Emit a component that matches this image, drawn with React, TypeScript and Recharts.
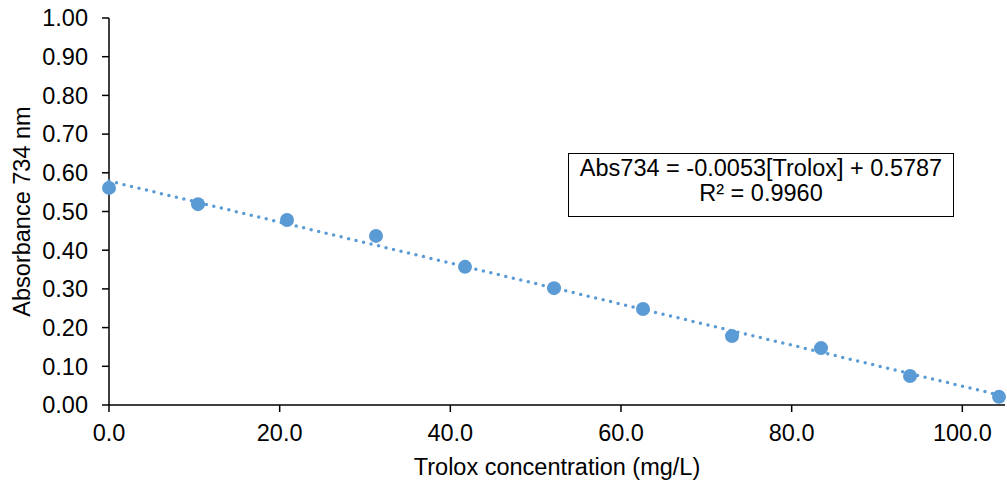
import React from 'react';
import { ScatterChart, Scatter, XAxis, YAxis } from 'recharts';

// Trolox standard concentrations (mg/L) and measured absorbance at 734 nm
const concentrations = [0, 10.43, 20.86, 31.29, 41.72, 52.15, 62.58, 73.01, 83.44, 93.87, 104.3];
const absorbances = [0.561, 0.519, 0.478, 0.437, 0.357, 0.302, 0.248, 0.178, 0.147, 0.075, 0.021];

const xTicks = [0, 20, 40, 60, 80, 100];
const yTicks = [0, 0.1, 0.2, 0.3, 0.4, 0.5, 0.6, 0.7, 0.8, 0.9, 1.0];

// linear fit reported on the chart
const slope = -0.0053;
const intercept = 0.5787;
const rSquared = 0.996;

const blue = '#5B9BD5';
const font = 'Liberation Sans, Arial, sans-serif';
const fontSize = 23.5;

const points = concentrations.map((x, i) => ({ x, y: absorbances[i] }));
const fitEnds = [concentrations[0], concentrations[concentrations.length - 1]];
const trend = fitEnds.map(x => ({ x, y: slope * x + intercept }));

const tickStyle = { fill: '#000', fontSize, fontFamily: font };

const YTitle = ({ viewBox }: any) => {
    const cx = viewBox.x + 30;
    const cy = viewBox.y + viewBox.height / 2;
    return (
        <text x={cx} y={cy} transform={`rotate(-90 ${cx} ${cy})`} textAnchor="middle"
            fill="#000" fontSize={fontSize} fontFamily={font}>
            Absorbance 734 nm
        </text>
    );
};

const XTitle = ({ viewBox }: any) => (
    <text x={viewBox.x + viewBox.width / 2} y={viewBox.y + 70} textAnchor="middle"
        fill="#000" fontSize={fontSize} fontFamily={font}>
        Trolox concentration (mg/L)
    </text>
);

export default function App() {
    // fixed to the viewport so the body margin does not push it into scroll
    return (
        <div style={{ position: 'fixed', left: 0, top: 0, width: 1007, height: 486, background: '#fff' }}>
            <ScatterChart width={1007} height={486} margin={{ top: 18, right: 2, bottom: 0, left: 0 }}>
                <XAxis
                    type="number"
                    dataKey="x"
                    domain={[0, 105]}
                    ticks={xTicks}
                    tickFormatter={(v: number) => v.toFixed(1)}
                    tick={tickStyle}
                    tickSize={7}
                    tickMargin={12}
                    height={81}
                    axisLine={{ stroke: '#000', strokeWidth: 1.5 }}
                    tickLine={{ stroke: '#000', strokeWidth: 1.5 }}
                    label={<XTitle />}
                />
                <YAxis
                    type="number"
                    dataKey="y"
                    domain={[0, 1]}
                    ticks={yTicks}
                    tickFormatter={(v: number) => v.toFixed(2)}
                    tick={tickStyle}
                    tickSize={7}
                    tickMargin={14}
                    width={109}
                    axisLine={{ stroke: '#000', strokeWidth: 1.5 }}
                    tickLine={{ stroke: '#000', strokeWidth: 1.5 }}
                    label={<YTitle />}
                />
                <Scatter
                    data={trend}
                    isAnimationActive={false}
                    line={{ stroke: blue, strokeWidth: 3.5, strokeDasharray: '0 7.7', strokeLinecap: 'round' }}
                    shape={() => <g />}
                />
                <Scatter
                    data={points}
                    isAnimationActive={false}
                    fill={blue}
                    shape={(p: any) => <circle cx={p.cx} cy={p.cy} r={7} fill={blue} />}
                />
            </ScatterChart>
            <div
                style={{
                    position: 'absolute',
                    left: 568,
                    top: 153,
                    width: 386,
                    height: 64,
                    border: '1.5px solid #000',
                    background: '#fff',
                    fontFamily: font,
                    fontSize,
                    lineHeight: '25px',
                    textAlign: 'center',
                    color: '#000',
                    paddingTop: 2,
                    boxSizing: 'border-box',
                }}
            >
                <div>Abs734 = {slope.toFixed(4)}[Trolox] + {intercept.toFixed(4)}</div>
                <div>R² = {rSquared.toFixed(4)}</div>
            </div>
        </div>
    );
}
